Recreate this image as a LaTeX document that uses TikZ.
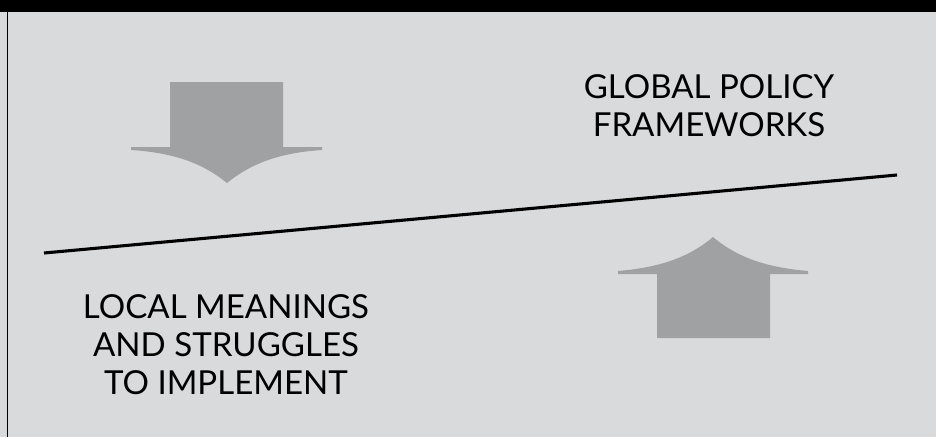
\documentclass[tikz,border=0pt]{standalone}
\usepackage{fontspec}
\setmainfont{Lato}
\usepackage{tikz}
\usetikzlibrary{positioning}
\definecolor{panelgray}{HTML}{D9DADC}
\definecolor{arrowgray}{HTML}{A0A1A3}
\tikzset{
  caption/.style={align=center, font=\fontsize{23.5}{27}\selectfont, inner sep=0pt},
  bigarrow/.style={fill=arrowgray, draw=none}
}

\begin{document}
\begin{tikzpicture}[x=0.025cm, y=-0.025cm]
			%%%%% START %%%%%
			\useasboundingbox (0, 0) rectangle (936, 437);
			\fill[panelgray] (0, 0) rectangle (936, 437);
			\fill[black] (0, 0) rectangle (936, 12);
			\draw[line width=0.6pt] (7, 12) -- (7, 437);
			
			% down arrow, top left
			\fill[bigarrow] (170, 82) -- (283, 82) -- (283, 147) -- (322, 147) -- (322, 150)
				.. controls (275, 153) and (248, 166) .. (227, 183)
				.. controls (206, 166) and (179, 153) .. (131, 150) -- (131, 147) -- (170, 147) -- cycle;
			
			% up arrow, bottom right
			\fill[bigarrow] (657, 338) -- (770, 338) -- (770, 274) -- (808, 274) -- (808, 271)
				.. controls (760, 267) and (733, 254) .. (713, 237)
				.. controls (693, 254) and (666, 267) .. (618, 271) -- (618, 274) -- (657, 274) -- cycle;
			
			% dividing line
			\coordinate (lineL) at (44, 253);
			\coordinate (lineR) at (897, 175);
			\draw[line width=2.2pt] (lineL) -- (lineR);
			
			\node[caption] (global) at (709, 106) {GLOBAL POLICY\\FRAMEWORKS};
			\node[caption] (local) at (226, 345) {LOCAL MEANINGS\\AND STRUGGLES\\TO IMPLEMENT};
			%%%%% END %%%%%
\end{tikzpicture}
\end{document}
